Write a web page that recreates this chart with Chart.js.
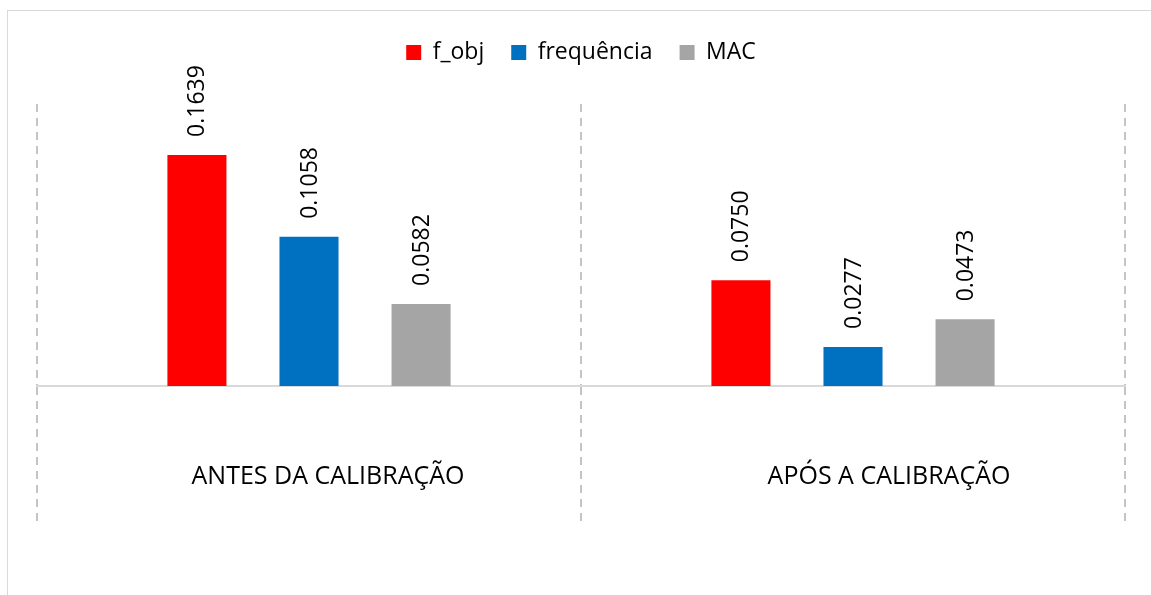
<!DOCTYPE html>
<html>
<head>
<meta charset="utf-8">
<script src="https://cdn.jsdelivr.net/npm/chart.js@4"></script>
<style>
  html, body { margin: 0; padding: 0; background: #fff; }
  #wrap { position: relative; width: 1151px; height: 595px; overflow: hidden; }
  #frame { position: absolute; left: 7px; top: 10px; width: 1200px; height: 700px; border: 1px solid #d9d9d9; }
  #chart { position: absolute; left: 0; top: 0; }
</style>
</head>
<body>
<div id="wrap">
  <div id="frame"></div>
  <canvas id="chart" width="1151" height="595"></canvas>
</div>
<script>
  // Calibration results, before and after
  const stages = ['ANTES DA CALIBRAÇÃO', 'APÓS A CALIBRAÇÃO'];
  const fObj = [0.1639, 0.0750];
  const frequencia = [0.1058, 0.0277];
  const mac = [0.0582, 0.0473];

  const FONT = 'Open Sans';

  // vertical value labels above each bar
  const barLabels = {
    id: 'barLabels',
    afterDatasetsDraw(chart) {
      const ctx = chart.ctx;
      ctx.save();
      ctx.fillStyle = '#000';
      ctx.font = `23px "${FONT}"`;
      ctx.textAlign = 'left';
      ctx.textBaseline = 'middle';
      chart.data.datasets.forEach((ds, i) => {
        chart.getDatasetMeta(i).data.forEach((bar, j) => {
          ctx.save();
          ctx.translate(bar.x, bar.y - 18);
          ctx.rotate(-Math.PI / 2);
          ctx.fillText(ds.data[j].toFixed(4), 0, 1);
          ctx.restore();
        });
      });
      ctx.restore();
    }
  };

  // category names sit inside the long tick marks, below the baseline
  const stageLabels = {
    id: 'stageLabels',
    afterDraw(chart) {
      const ctx = chart.ctx;
      const x = chart.scales.x;
      const nudge = [19, 36];
      ctx.save();
      ctx.fillStyle = '#000';
      ctx.font = `25px "${FONT}"`;
      ctx.textAlign = 'center';
      ctx.textBaseline = 'middle';
      chart.data.labels.forEach((label, i) => {
        ctx.fillText(label, x.getPixelForValue(i) + nudge[i], x.top + 91);
      });
      ctx.restore();
    }
  };

  // extra room under the legend
  const legendSpace = {
    id: 'legendSpace',
    beforeInit(chart) {
      const fit = chart.legend.fit;
      chart.legend.fit = function () {
        fit.bind(chart.legend)();
        this.height += 30;
      };
    }
  };

  new Chart(document.getElementById('chart'), {
    type: 'bar',
    data: {
      labels: stages,
      datasets: [
        { label: 'f_obj', data: fObj, backgroundColor: '#ff0000' },
        { label: 'frequência', data: frequencia, backgroundColor: '#0070c0' },
        { label: 'MAC', data: mac, backgroundColor: '#a5a5a5' }
      ]
    },
    options: {
      responsive: false,
      animation: false,
      categoryPercentage: 0.618,
      barPercentage: 0.527,
      layout: { padding: { left: 37, right: 26, top: 14, bottom: 68 } },
      plugins: {
        tooltip: { enabled: false },
        legend: {
          position: 'top',
          labels: {
            boxWidth: 15,
            boxHeight: 15,
            padding: 27,
            color: '#000',
            font: { family: FONT, size: 23 }
          }
        }
      },
      scales: {
        x: {
          grid: {
            color: '#c4c4c4',
            lineWidth: 2,
            tickLength: 141,
            tickColor: '#c4c4c4',
            tickWidth: 2,
            tickBorderDash: [8, 6]
          },
          border: { display: true, color: '#d9d9d9', width: 2, dash: [8, 6] },
          ticks: { display: false }
        },
        y: {
          display: false,
          min: 0,
          max: 0.2
        }
      }
    },
    plugins: [barLabels, stageLabels, legendSpace]
  });
</script>
</body>
</html>
